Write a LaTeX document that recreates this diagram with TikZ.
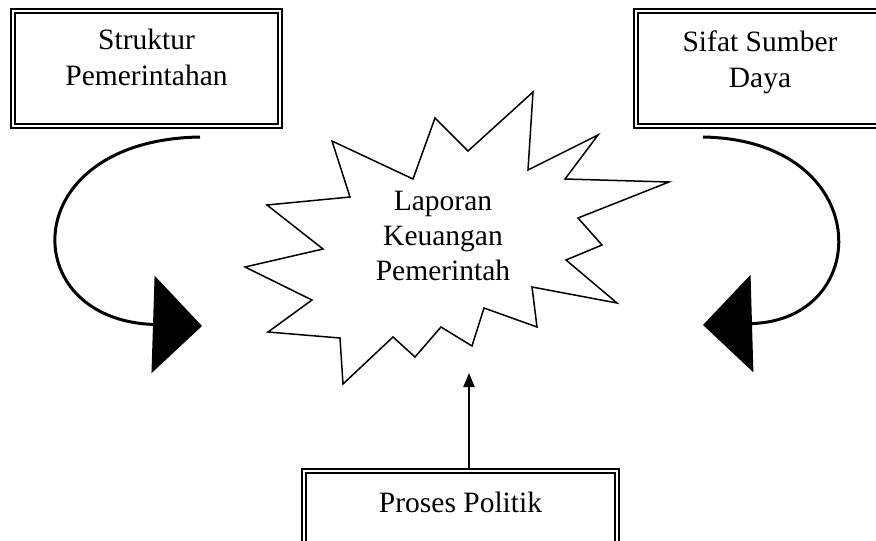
\documentclass[tikz,border=0pt]{standalone}
\usepackage{fontspec}
\setmainfont{Liberation Serif}
\usetikzlibrary{arrows.meta}
\begin{document}
\begin{tikzpicture}[x=1pt, y=-1pt,
  dbox/.style={draw, double, double distance=2pt, line width=1.8pt, inner sep=0pt, anchor=north, align=center, font=\fontsize{29.5}{36.5}\selectfont},
  curvearrow/.style={line width=3pt, -{Triangle[length=49pt, width=97pt]}}]
\useasboundingbox (0,0) rectangle (876,541);
\clip (0,0) rectangle (876,541);

% Struktur Pemerintahan
\node[dbox, minimum width=267.4pt, text height=75.2pt, text depth=40pt] (struktur) at (146.5,9.8) {Struktur\\Pemerintahan};

% Sifat Sumber Daya
\node[dbox, minimum width=248.4pt, text height=77.2pt, text depth=38pt] (sifat) at (760,9.8) {Sifat Sumber\\Daya};

% Proses Politik
\node[dbox, minimum width=313.4pt, text height=42.2pt, text depth=33pt] (politik) at (460.5,469.8) {Proses Politik};

% Laporan Keuangan Pemerintah
\draw[line width=1.5pt] (533,92) -- (528,170) -- (598,135) -- (565,179) -- (669,182) -- (578,218) -- (602,245) -- (566,260) -- (617,303) -- (532,287) -- (537,327) -- (484,308) -- (472,346) -- (441,327) -- (415,357) -- (393,337) -- (343,384) -- (340,338) -- (268,332) -- (312,300) -- (245,267) -- (323,249) -- (267,205) -- (350,197) -- (332,141) -- (413,179) -- (435,118) -- (468,151) -- cycle;
\node[inner sep=0pt, align=center, font=\fontsize{29.5}{35}\selectfont] (laporan) at (443,236) {Laporan\\Keuangan\\Pemerintah};

% Arrows
\coordinate (lstart) at (200,137);
\coordinate (lend) at (202,326);
\coordinate (rstart) at (703,137);
\coordinate (rend) at (703,325);
\coordinate (uptip) at (469,373);
\draw[curvearrow] (lstart) .. controls (15,140) and (15,320) .. (lend);
\draw[curvearrow] (rstart) .. controls (875,140) and (875,320) .. (rend);
\draw[line width=2pt, -{Triangle[length=14pt, width=11pt]}] ([xshift=8.5pt]politik.north) -- (uptip);
\end{tikzpicture}
\end{document}
